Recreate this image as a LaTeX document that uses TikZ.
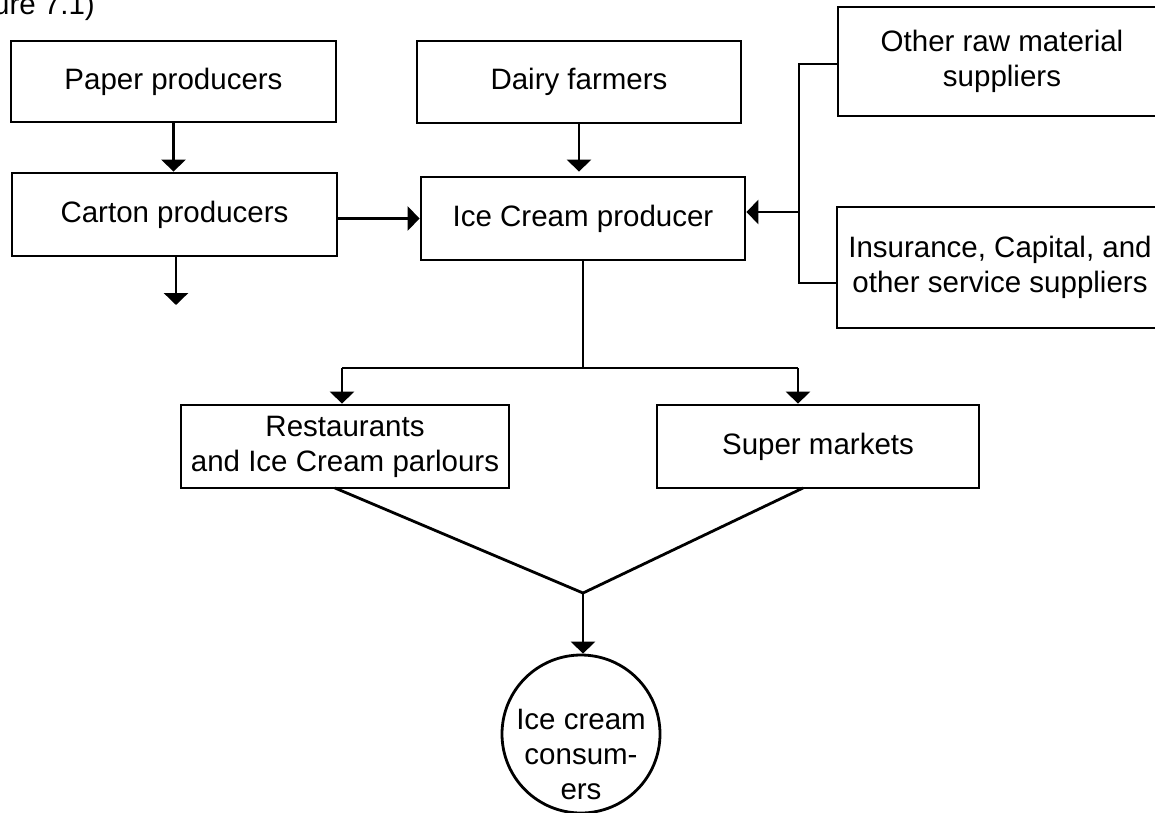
\documentclass[tikz,border=0pt]{standalone}
\usepackage{fontspec}
\setmainfont{Liberation Sans}
\usetikzlibrary{arrows.meta}
\begin{document}
\begin{tikzpicture}[x=1pt,y=-1pt,
  every node/.style={font=\fontsize{29.5}{35}\selectfont},
  boxnode/.style={draw,line width=2.8pt,rectangle,inner sep=0pt,align=center},
  conn/.style={line width=2.8pt},
  arr/.style={line width=2.8pt,-{Triangle[width=24pt,length=12pt]}}]
\useasboundingbox (0,0) rectangle (1155,812);
\clip (0,0) rectangle (1155,812);
\node[anchor=base east,inner sep=0pt] (title) at (95,14) {ure 7.1)};
\node[boxnode,minimum width=325pt,minimum height=81pt] (paper) at (173.5,81.5) {Paper producers};
\node[boxnode,minimum width=325pt,minimum height=83pt] (carton) at (174.5,214.5) {Carton producers};
\node[boxnode,minimum width=324pt,minimum height=82pt] (dairy) at (579,82) {Dairy farmers};
\node[boxnode,minimum width=324pt,minimum height=83pt] (ice) at (583,218.5) {Ice Cream producer};
\node[boxnode,minimum width=328pt,minimum height=109pt] (other) at (1002,61.5) {Other raw material\\suppliers};
\node[boxnode,minimum width=326pt,minimum height=121pt] (ins) at (1000,267.5) {Insurance, Capital, and\\other service suppliers};
\node[boxnode,minimum width=328pt,minimum height=83pt] (rest) at (345,446.5) {Restaurants\\and Ice Cream parlours};
\node[boxnode,minimum width=322pt,minimum height=83pt] (super) at (818,446.5) {Super markets};
\node[draw,line width=2.8pt,circle,minimum size=158pt,inner sep=0pt] (cons) at (581,734) {};
\node[align=center,inner sep=0pt] (constext) at (581,754) {Ice cream\\consum-\\ers};
% coordinates
\coordinate (cartonout) at (176,305);
\coordinate (bt) at (799,64);
\coordinate (bb) at (799,283);
\coordinate (bm) at (799,212);
\coordinate (split) at (583,368);
\coordinate (sl) at (342,368);
\coordinate (sr) at (798,368);
\coordinate (rl) at (335,488);
\coordinate (sb) at (803,488);
\coordinate (join) at (583,593);
% connectors
\draw[arr] (paper.south) -- (paper.south |- carton.north);
\draw[arr] (carton.south -| cartonout) -- (cartonout);
\draw[arr] (dairy.south) -- ([yshift=4pt]dairy.south |- ice.north);
\draw[arr] (carton.east |- ice.west) -- (ice.west);
\draw[conn] (other.west |- bt) -- (bt) -- (bb) -- (ins.west |- bb);
\draw[arr] (bm) -- (ice.east |- bm);
\draw[conn] (ice.south -| split) -- (split);
\draw[conn] (sl) -- (sr);
\draw[arr] (sl) -- (sl |- rest.north);
\draw[arr] (sr) -- (sr |- super.north);
\draw[conn] (rl) -- (join) -- (sb);
\draw[arr] (join) -- (join |- cons.north);
\end{tikzpicture}
\end{document}
